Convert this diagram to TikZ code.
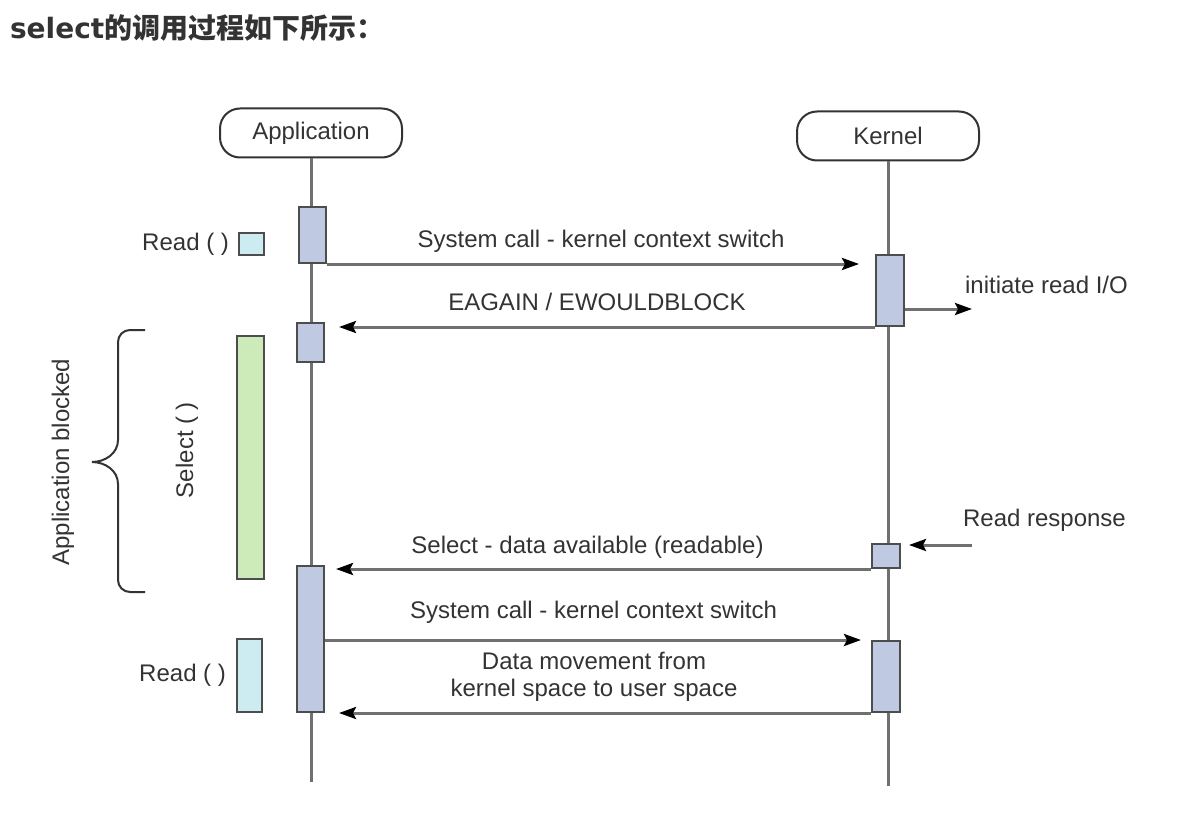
\documentclass[tikz,border=0pt]{standalone}
\usepackage{fontspec}
\setmainfont{Liberation Sans}
\newfontfamily\titlefont{DejaVu Sans}
\newfontfamily\cjk{Noto Sans CJK SC}
\usetikzlibrary{positioning,arrows.meta,calc}
\definecolor{actblue}{HTML}{BFC9E2}
\definecolor{selgreen}{HTML}{CDEBB9}
\definecolor{readcyan}{HTML}{CCECF2}
\definecolor{linegray}{HTML}{707070}
\definecolor{boxgray}{HTML}{4D4D4D}
\definecolor{txt}{HTML}{333333}

\begin{document}
\begin{tikzpicture}[
    x=0.5pt, y=-0.5pt,
    font=\fontsize{12}{14.5}\selectfont, text=txt,
    actor/.style={draw=txt, line width=1pt, rounded corners=10pt, minimum width=91pt, minimum height=24.5pt},
    life/.style={linegray, line width=1.5pt},
    act/.style={draw=boxgray, fill=actblue, line width=1pt, minimum width=13.5pt, inner sep=0pt},
    callbox/.style={draw=boxgray, line width=1pt, minimum width=12.5pt, inner sep=0pt},
    msg/.style={linegray, line width=1.5pt, -{Stealth[length=8.5pt,width=6pt,inset=1.5pt,color=black]}},
    lbl/.style={text=txt, text height=8.7pt, text depth=2.5pt}
]
\useasboundingbox (0,0) rectangle (1202,818);

% title
\node[anchor=west, font=\fontsize{14}{17}\selectfont\bfseries] (title) at (3,28)
    {{\titlefont select}{\cjk 的调用过程如下所示：}};

% actors and lifelines
\node[actor] (app) at (311,133) {Application};
\node[actor] (ker) at (888,136) {Kernel};
\coordinate (appEnd) at (311,782);
\coordinate (kerEnd) at (887,786);
\draw[life] (app.south) -- (app.south |- appEnd);
\draw[life] (ker.south) -- (ker.south |- kerEnd);

% activations
\node[act, minimum height=28pt] (a1) at (312.5,235) {};
\node[act, minimum height=19.5pt] (a2) at (310.5,342.5) {};
\node[act, minimum height=73pt] (a3) at (310.5,639) {};
\node[act, minimum width=14pt, minimum height=35.5pt] (k1) at (890,290.5) {};
\node[act, minimum width=14pt, minimum height=12pt] (k2) at (886,556) {};
\node[act, minimum width=14pt, minimum height=35.5pt] (k3) at (886,676.5) {};

% calls on the application side
\node[callbox, fill=readcyan, minimum height=11pt] (rd1) at (251.5,244) {};
\node[callbox, fill=selgreen, minimum width=13.5pt, minimum height=121.5pt] (sel) at (250.5,457.5) {};
\node[callbox, fill=readcyan, minimum height=36.5pt] (rd2) at (249.5,675.5) {};
\node[lbl, left=1pt of rd1] (rd1txt) {Read ( )};
\node[lbl, left=1.5pt of rd2] (rd2txt) {Read ( )};
\node[lbl, rotate=90] (seltxt) at (187,450) {Select ( )};

% blocked brace
\draw[txt, line width=1pt] (145,330) -- (130,330) to[out=180,in=90] (118,342) -- (118,440)
    to[out=-90,in=0] (92,462) to[out=0,in=90] (118,484) -- (118,580)
    to[out=-90,in=180] (130,592) -- (145,592);
\node[lbl, rotate=90] (blocked) at (63,462) {Application blocked};

% messages
\draw[msg, shorten >=8pt] (a1.south east) -- (a1.south east -| k1.west)
    node[lbl, midway, above=1.5pt] {System call - kernel context switch};
\draw[msg, shorten >=7pt] (k1.south west) -- (k1.south west -| a2.east)
    node[lbl, midway, above=1.5pt, xshift=-1.5pt] {EAGAIN / EWOULDBLOCK};
\draw[msg, shorten >=5.5pt] (k2.south west) -- (k2.south west -| a3.east)
    node[lbl, midway, above=1pt, xshift=-5.25pt] {Select - data available (readable)};
\draw[msg, shorten >=5pt] (k3.north west -| a3.east) -- (k3.north west)
    node[lbl, midway, above=4pt, xshift=-2.25pt] {System call - kernel context switch};
\draw[msg, shorten >=7pt] (k3.south west) -- (k3.south west -| a3.east)
    node[text=txt, midway, above=1.5pt, xshift=-2pt, align=center, font=\fontsize{12}{13.5}\selectfont]
    {Data movement from\\kernel space to user space};

% kernel side events
\coordinate (ioEnd) at (972,309);
\draw[msg] (k1.east |- ioEnd) -- (ioEnd);
\node[lbl, anchor=west] (iotxt) at (958,287) {initiate read I/O};
\coordinate (respStart) at (972,545);
\draw[msg, shorten >=4pt] (respStart) -- (respStart -| k2.east);
\node[lbl, anchor=west] (resptxt) at (956,520) {Read response};
\end{tikzpicture}
\end{document}
